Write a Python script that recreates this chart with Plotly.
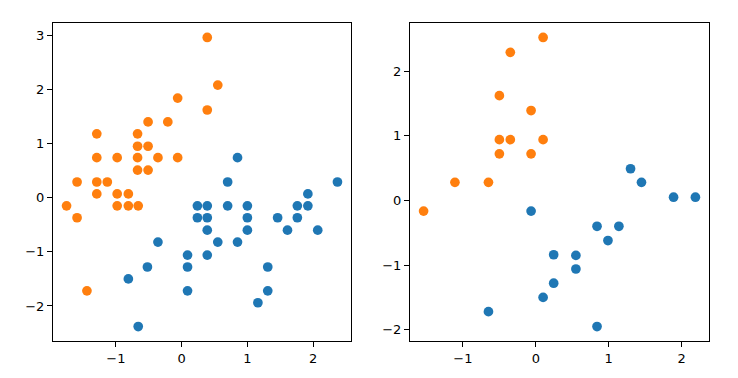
import plotly.graph_objects as go

# Left panel (training set)
left_blue_x = [0.24, 0.39, 0.24, 0.39, 0.39, -0.36, 0.09, 0.39, -0.52, 0.09, -0.81, 0.09, -0.66,
               0.85, 0.70, 1.92, 2.37, 0.70, 1.00, 1.76, 1.92, 1.00, 1.46, 1.76, 1.00, 1.61, 2.07,
               0.55, 0.85, 1.31, 1.31, 1.16]
left_blue_y = [-0.15, -0.15, -0.37, -0.37, -0.60, -0.82, -1.06, -1.06, -1.28, -1.28, -1.50, -1.72, -2.38,
               0.74, 0.29, 0.07, 0.29, -0.15, -0.15, -0.15, -0.15, -0.37, -0.37, -0.37, -0.60, -0.60, -0.60,
               -0.82, -0.82, -1.28, -1.72, -1.94]
left_orange_x = [0.39, -0.06, 0.39, 0.55, -0.51, -0.21, -1.29, -0.67, -0.67, -0.51, -1.29, -0.98, -0.67,
                 -0.36, -0.06, -0.67, -0.51, -1.59, -1.29, -1.13, -1.29, -0.98, -0.81, -1.75, -0.98,
                 -0.81, -0.66, -1.59, -1.44]
left_orange_y = [2.96, 1.84, 1.62, 2.08, 1.40, 1.40, 1.18, 1.18, 0.95, 0.95, 0.74, 0.74, 0.74,
                 0.74, 0.74, 0.51, 0.51, 0.29, 0.29, 0.29, 0.07, 0.07, 0.07, -0.15, -0.15,
                 -0.15, -0.15, -0.37, -1.72]

# Right panel (test set)
right_orange_x = [0.10, -0.35, -0.50, -0.065, -0.50, -0.35, 0.10, -0.50, -0.065, -1.11, -0.65, -1.54]
right_orange_y = [2.52, 2.29, 1.62, 1.39, 0.94, 0.94, 0.94, 0.72, 0.72, 0.28, 0.28, -0.165]
right_blue_x = [-0.065, 0.245, 0.55, 0.55, 0.245, 0.10, -0.65, 1.30, 1.45, 1.89, 2.19, 0.84, 1.14, 0.99, 0.84]
right_blue_y = [-0.165, -0.84, -0.85, -1.06, -1.28, -1.50, -1.72, 0.49, 0.28, 0.05, 0.05, -0.40, -0.40, -0.62, -1.95]

BLUE = "#1f77b4"
ORANGE = "#ff7f0e"

W, H, OFF = 738, 378, 8  # page body has an 8px margin


def padded(vals, frac=0.05):
    lo, hi = min(vals), max(vals)
    m = (hi - lo) * frac
    return [lo - m, hi + m]


def xdom(a, b):
    return [(a - OFF) / W, (b - OFF) / W]


def ydom(top, bottom):
    return [1 - (bottom - OFF) / H, 1 - (top - OFF) / H]


fig = go.Figure()
mk = lambda c: dict(color=c, size=9.7, line=dict(width=0))
fig.add_trace(go.Scatter(x=left_blue_x, y=left_blue_y, mode="markers", marker=mk(BLUE), xaxis="x", yaxis="y"))
fig.add_trace(go.Scatter(x=left_orange_x, y=left_orange_y, mode="markers", marker=mk(ORANGE), xaxis="x", yaxis="y"))
fig.add_trace(go.Scatter(x=right_blue_x, y=right_blue_y, mode="markers", marker=mk(BLUE), xaxis="x2", yaxis="y2"))
fig.add_trace(go.Scatter(x=right_orange_x, y=right_orange_y, mode="markers", marker=mk(ORANGE), xaxis="x2", yaxis="y2"))

axstyle = dict(showline=True, linecolor="black", linewidth=1, mirror=True, ticks="outside",
               ticklen=5, tickwidth=1, tickcolor="black", showgrid=False, zeroline=False,
               tickfont=dict(family="DejaVu Sans", size=13, color="black"), dtick=1,
               fixedrange=True, automargin=False)

fig.update_layout(
    width=W, height=H,
    margin=dict(l=0, r=0, t=0, b=0),
    paper_bgcolor="white", plot_bgcolor="white",
    showlegend=False,
    xaxis=dict(domain=xdom(53, 351), range=padded(left_blue_x + left_orange_x), anchor="y", **axstyle),
    yaxis=dict(domain=ydom(23, 341), range=padded(left_blue_y + left_orange_y), anchor="x", **axstyle),
    xaxis2=dict(domain=xdom(410, 709), range=padded(right_blue_x + right_orange_x), anchor="y2", **axstyle),
    yaxis2=dict(domain=ydom(23, 341), range=padded(right_blue_y + right_orange_y), anchor="x2", **axstyle),
)

fig.write_html("out.html")
